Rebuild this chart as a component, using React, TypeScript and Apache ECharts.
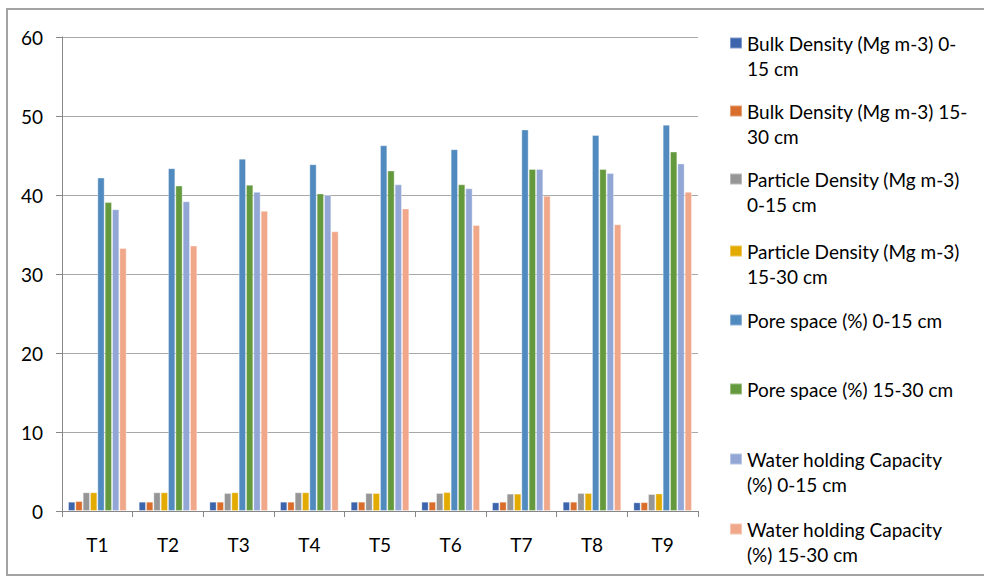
import React, { useEffect, useRef } from "react";
import * as echarts from "echarts";

const categories = ["T1", "T2", "T3", "T4", "T5", "T6", "T7", "T8", "T9"];

const seriesNames = [
  "Bulk Density (Mg m-3) 0-15 cm",
  "Bulk Density (Mg m-3) 15-30 cm",
  "Particle Density (Mg m-3) 0-15 cm",
  "Particle Density (Mg m-3) 15-30 cm",
  "Pore space (%) 0-15 cm",
  "Pore space (%) 15-30 cm",
  "Water holding Capacity (%) 0-15 cm",
  "Water holding Capacity (%) 15-30 cm",
];

const legendLabels = [
  "Bulk Density (Mg m-3) 0-\n15 cm",
  "Bulk Density (Mg m-3) 15-\n30 cm",
  "Particle Density (Mg m-3)\n0-15 cm",
  "Particle Density (Mg m-3)\n15-30 cm",
  "Pore space (%) 0-15 cm",
  "Pore space (%) 15-30 cm",
  "Water holding Capacity\n(%) 0-15 cm",
  "Water holding Capacity\n(%) 15-30 cm",
];

const bulkDensity0to15 = [1.18, 1.18, 1.18, 1.18, 1.18, 1.18, 1.1, 1.18, 1.1];
const bulkDensity15to30 = [1.26, 1.18, 1.18, 1.18, 1.18, 1.18, 1.18, 1.18, 1.12];
const particleDensity0to15 = [2.37, 2.37, 2.28, 2.37, 2.28, 2.28, 2.2, 2.28, 2.15];
const particleDensity15to30 = [2.37, 2.37, 2.37, 2.37, 2.28, 2.4, 2.2, 2.28, 2.22];
const poreSpace0to15 = [42.2, 43.4, 44.6, 43.9, 46.3, 45.8, 48.3, 47.6, 48.9];
const poreSpace15to30 = [39.1, 41.2, 41.3, 40.2, 43.1, 41.35, 43.3, 43.3, 45.5];
const whc0to15 = [38.2, 39.2, 40.4, 40.0, 41.35, 40.85, 43.3, 42.8, 44.0];
const whc15to30 = [33.3, 33.6, 38.0, 35.4, 38.3, 36.2, 39.9, 36.3, 40.4];

const seriesValues = [
  bulkDensity0to15,
  bulkDensity15to30,
  particleDensity0to15,
  particleDensity15to30,
  poreSpace0to15,
  poreSpace15to30,
  whc0to15,
  whc15to30,
];

const colors = [
  "#3C64AD",
  "#D96D2B",
  "#969696",
  "#E3AB00",
  "#508ABE",
  "#64993D",
  "#92A7D5",
  "#F1A88A",
];

const yTicks = { min: 0, max: 60, interval: 10 };

const FONT = "Lato";

export default function App() {
  const ref = useRef<HTMLDivElement>(null);

  useEffect(() => {
    if (!ref.current) return;
    const chart = echarts.init(ref.current, undefined, { renderer: "svg" });

    const markerCenters = [43, 111, 179, 251, 320, 389, 459, 529];
    const lineH = 25;

    const legends = seriesNames.map((name, i) => {
      const twoLine = legendLabels[i].includes("\n");
      // two-line labels get an empty leading line so the first line sits level with the marker
      const label = twoLine ? "\n" + legendLabels[i] : legendLabels[i];
      const boxHalf = twoLine ? (3 * lineH) / 2 : lineH / 2;
      return {
        data: [name],
        orient: "vertical",
        left: 729,
        top: markerCenters[i] - boxHalf,
        padding: 0,
        itemWidth: 12,
        itemHeight: 11,
        icon: "rect",
        selectedMode: false,
        formatter: () => label,
        textStyle: {
          fontFamily: FONT,
          fontSize: 19,
          color: "#000",
          lineHeight: lineH,
        },
      };
    });

    chart.setOption({
      animation: false,
      textStyle: { fontFamily: FONT },
      graphic: [
        {
          type: "rect",
          shape: { x: 7, y: 9, width: 1000, height: 566 },
          style: { fill: "none", stroke: "#a3a3a3", lineWidth: 2 },
          silent: true,
        },
      ],
      grid: { left: 62, right: 286, top: 37, bottom: 66, containLabel: false },
      legend: legends,
      xAxis: {
        type: "category",
        data: categories,
        boundaryGap: true,
        axisLine: { show: true, lineStyle: { color: "#878787", width: 1 } },
        axisTick: { show: true, length: 6, interval: 0, lineStyle: { color: "#878787" } },
        axisLabel: { fontFamily: FONT, fontSize: 19, color: "#000", margin: 24 },
      },
      yAxis: {
        type: "value",
        min: yTicks.min,
        max: yTicks.max,
        interval: yTicks.interval,
        axisLine: { show: true, lineStyle: { color: "#878787", width: 1 } },
        axisTick: { show: true, length: 6, lineStyle: { color: "#878787" } },
        splitLine: { show: true, lineStyle: { color: "#a8a8a8", width: 1 } },
        axisLabel: { fontFamily: FONT, fontSize: 19, color: "#000", margin: 19 },
      },
      series: seriesNames.map((name, i) => ({
        name,
        type: "bar",
        data: seriesValues[i],
        barGap: "0%",
        barCategoryGap: "17%",
        itemStyle: {
          color: colors[i],
          borderColor: "rgba(255,255,255,0.35)",
          borderWidth: 1,
        },
      })),
    });

    return () => chart.dispose();
  }, []);

  return (
    <div
      ref={ref}
      style={{ position: "fixed", left: 0, top: 0, width: 984, height: 577, background: "#fff" }}
    />
  );
}
